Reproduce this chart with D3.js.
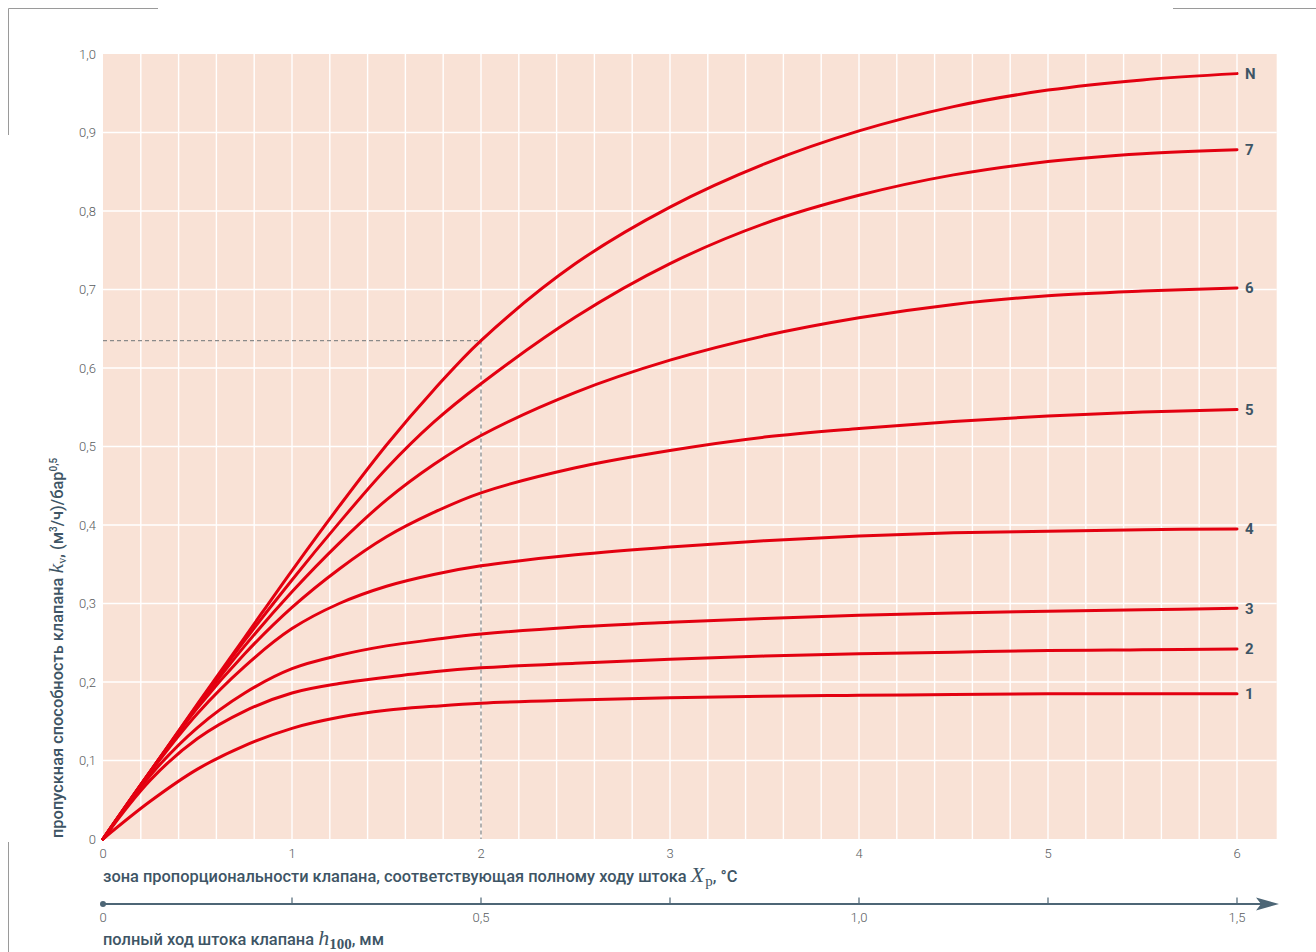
<!DOCTYPE html>
<html lang="ru">
<head>
<meta charset="utf-8">
<script src="https://cdn.jsdelivr.net/npm/d3@7"></script>
<style>
  html, body { margin: 0; padding: 0; background: #ffffff; }
  svg { display: block; }
  .tick-label { font-family: Roboto, "Liberation Sans", sans-serif; font-weight: 300; font-size: 13px; fill: #585c60; }
  .axis-title { font-family: Roboto, "Liberation Sans", sans-serif; font-weight: 500; font-size: 16.4px; fill: #3e5565; }
  .math { font-family: "Liberation Serif", "DejaVu Serif", serif; }
  .curve-label { font-family: Roboto, "Liberation Sans", sans-serif; font-weight: 700; font-size: 15px; fill: #3e5565; }
</style>
</head>
<body>
<svg id="chart" width="1316" height="952"></svg>
<script>
// Proportional band Xp, °C (sample positions along each curve)
const xpValues = [0, 0.25, 0.5, 0.75, 1.0, 1.25, 1.5, 1.75, 2, 2.5, 3, 3.5, 4, 4.5, 5, 5.5, 6];

// kv, (m³/h)/bar^0.5 for each valve insert
const seriesNames = ["1", "2", "3", "4", "5", "6", "7", "N"];
const kv1 = [0, 0.048, 0.089, 0.119, 0.141, 0.155, 0.164, 0.169, 0.173, 0.177, 0.180, 0.182, 0.183, 0.184, 0.185, 0.185, 0.185];
const kv2 = [0, 0.075, 0.128, 0.163, 0.186, 0.198, 0.206, 0.213, 0.218, 0.224, 0.229, 0.233, 0.236, 0.238, 0.240, 0.241, 0.242];
const kv3 = [0, 0.081, 0.142, 0.186, 0.217, 0.234, 0.246, 0.254, 0.261, 0.270, 0.276, 0.281, 0.285, 0.288, 0.290, 0.292, 0.294];
const kv4 = [0, 0.085, 0.160, 0.220, 0.268, 0.300, 0.322, 0.337, 0.348, 0.362, 0.372, 0.380, 0.386, 0.390, 0.392, 0.394, 0.395];
const kv5 = [0, 0.086, 0.167, 0.236, 0.295, 0.344, 0.385, 0.416, 0.441, 0.473, 0.495, 0.512, 0.523, 0.532, 0.539, 0.544, 0.547];
const kv6 = [0, 0.086, 0.169, 0.246, 0.315, 0.377, 0.432, 0.477, 0.514, 0.569, 0.610, 0.641, 0.664, 0.681, 0.692, 0.698, 0.702];
const kv7 = [0, 0.086, 0.171, 0.253, 0.330, 0.403, 0.472, 0.531, 0.580, 0.665, 0.733, 0.784, 0.820, 0.846, 0.863, 0.873, 0.878];
const kvN = [0, 0.086, 0.172, 0.257, 0.342, 0.424, 0.502, 0.572, 0.635, 0.733, 0.805, 0.860, 0.902, 0.933, 0.954, 0.967, 0.975];
const seriesValues = [kv1, kv2, kv3, kv4, kv5, kv6, kv7, kvN];

// Axis ticks
const xTicks = [0, 1, 2, 3, 4, 5, 6];
const xTickLabels = ["0", "1", "2", "3", "4", "5", "6"];
const yTicks = [0, 0.1, 0.2, 0.3, 0.4, 0.5, 0.6, 0.7, 0.8, 0.9, 1.0];
const yTickLabels = ["0", "0,1", "0,2", "0,3", "0,4", "0,5", "0,6", "0,7", "0,8", "0,9", "1,0"];
// Full valve stroke h100, mm (second scale under the Xp axis)
const strokeTicks = [0, 0.25, 0.5, 0.75, 1.0, 1.25, 1.5];
const strokeLabelTicks = [0, 0.5, 1.0, 1.5];
const strokeTickLabels = ["0", "0,5", "1,0", "1,5"];

// Worked example: Xp = 2 °C on curve N
const exampleXp = 2;
const exampleKv = 0.635;

const svg = d3.select("#chart");

const x = d3.scaleLinear().domain([0, 6]).range([103, 1237]);
const y = d3.scaleLinear().domain([0, 1]).range([839, 54]);
const h = d3.scaleLinear().domain([0, 1.5]).range([103, 1237]);
const xMax = 6.21;

// Corner crop marks
const marks = svg.append("g").attr("stroke", "#9a9a9a").attr("stroke-width", 1).attr("fill", "none");
marks.append("path").attr("d", "M8.5,135 V8.5 H158");
marks.append("path").attr("d", "M1173,8.5 H1316");
marks.append("path").attr("d", "M8.5,842 V952");

// Plot background
svg.append("rect")
  .attr("x", x(0)).attr("y", y(1))
  .attr("width", x(xMax) - x(0)).attr("height", y(0) - y(1))
  .attr("fill", "#f9e2d6");

// Grid
const grid = svg.append("g").attr("stroke", "#ffffff").attr("stroke-width", 1.4);
const vGrid = d3.range(1, 31).map(i => i * 0.2);
grid.selectAll("line.v").data(vGrid).join("line")
  .attr("class", "v")
  .attr("x1", d => x(d)).attr("x2", d => x(d))
  .attr("y1", y(1)).attr("y2", y(0));
grid.selectAll("line.h").data(yTicks.slice(1, 10)).join("line")
  .attr("class", "h")
  .attr("x1", x(0)).attr("x2", x(xMax))
  .attr("y1", d => y(d)).attr("y2", d => y(d));

// Y tick labels
svg.append("g").selectAll("text").data(yTicks).join("text")
  .attr("class", "tick-label")
  .attr("x", 96).attr("y", d => y(d))
  .attr("dy", "0.35em")
  .attr("text-anchor", "end")
  .text((d, i) => yTickLabels[i]);

// X tick labels
svg.append("g").selectAll("text").data(xTicks).join("text")
  .attr("class", "tick-label")
  .attr("x", d => x(d)).attr("y", 858)
  .attr("text-anchor", "middle")
  .text((d, i) => xTickLabels[i]);

// Worked example guide
svg.append("path")
  .attr("d", `M${x(0)},${y(exampleKv)} H${x(exampleXp)} V${y(0)}`)
  .attr("fill", "none")
  .attr("stroke", "#8a8a8a")
  .attr("stroke-width", 1.3)
  .attr("stroke-dasharray", "4,3");

// Curves
const line = d3.line()
  .x((d, i) => x(xpValues[i]))
  .y(d => y(d))
  .curve(d3.curveCatmullRom.alpha(0.5));

svg.append("g").selectAll("path").data(seriesValues).join("path")
  .attr("d", d => line(d))
  .attr("fill", "none")
  .attr("stroke", "#e30010")
  .attr("stroke-width", 3)
  .attr("stroke-linejoin", "round")
  .attr("stroke-linecap", "round");

svg.append("g").selectAll("text").data(seriesValues).join("text")
  .attr("class", "curve-label")
  .attr("x", x(6) + 8)
  .attr("y", d => y(d[d.length - 1]))
  .attr("dy", "0.36em")
  .text((d, i) => seriesNames[i]);

// X axis title
const xt = svg.append("text").attr("class", "axis-title").attr("x", 103).attr("y", 882);
xt.append("tspan").text("зона пропорциональности клапана, соответствующая полному ходу штока ");
xt.append("tspan").attr("class", "math").attr("font-style", "italic").attr("font-weight", 400).attr("font-size", 22).text("X");
xt.append("tspan").attr("class", "math").attr("font-weight", 400).attr("font-size", 15).attr("dx", 1).attr("dy", 4).text("p");
xt.append("tspan").attr("dy", -4).text(", °C");

// Stroke scale
const sAxis = svg.append("g");
const axisColor = "#4d6676";
sAxis.append("line")
  .attr("x1", h(0)).attr("x2", 1262)
  .attr("y1", 904).attr("y2", 904)
  .attr("stroke", axisColor).attr("stroke-width", 2);
sAxis.append("path")
  .attr("d", "M1256,897.5 L1279,904 L1256,910.5 L1261,904 Z")
  .attr("fill", axisColor);
sAxis.append("circle").attr("cx", h(0)).attr("cy", 904).attr("r", 3).attr("fill", axisColor);
sAxis.selectAll("line.tick").data(strokeTicks.slice(1)).join("line")
  .attr("class", "tick")
  .attr("x1", d => h(d)).attr("x2", d => h(d))
  .attr("y1", 904).attr("y2", 897.5)
  .attr("stroke", axisColor).attr("stroke-width", 1.2);
sAxis.selectAll("text").data(strokeLabelTicks).join("text")
  .attr("class", "tick-label")
  .attr("x", d => h(d)).attr("y", 922)
  .attr("text-anchor", "middle")
  .text((d, i) => strokeTickLabels[i]);

const ht = svg.append("text").attr("class", "axis-title").attr("x", 103).attr("y", 945);
ht.append("tspan").text("полный ход штока клапана ");
ht.append("tspan").attr("class", "math").attr("font-style", "italic").attr("font-weight", 400).attr("font-size", 22).text("h");
ht.append("tspan").attr("class", "math").attr("font-weight", 700).attr("font-size", 15).attr("dy", 4).text("100");
ht.append("tspan").attr("dy", -4).text(", мм");

// Y axis title
const yt = svg.append("text").attr("class", "axis-title")
  .attr("transform", "translate(63,838) rotate(-90)")
  .attr("x", 0).attr("y", 0);
yt.append("tspan").text("пропускная способность клапана ");
yt.append("tspan").attr("class", "math").attr("font-style", "italic").attr("font-weight", 400).attr("font-size", 22).text("k");
yt.append("tspan").attr("class", "math").attr("font-weight", 400).attr("font-size", 12).attr("dy", 3).text("v");
yt.append("tspan").attr("dy", -3).text(", (м");
yt.append("tspan").attr("font-size", 10).attr("dy", -6).text("3");
yt.append("tspan").attr("dy", 6).text("/ч)/бар");
yt.append("tspan").attr("font-size", 10).attr("dy", -6).text("0,5");
</script>
</body>
</html>
